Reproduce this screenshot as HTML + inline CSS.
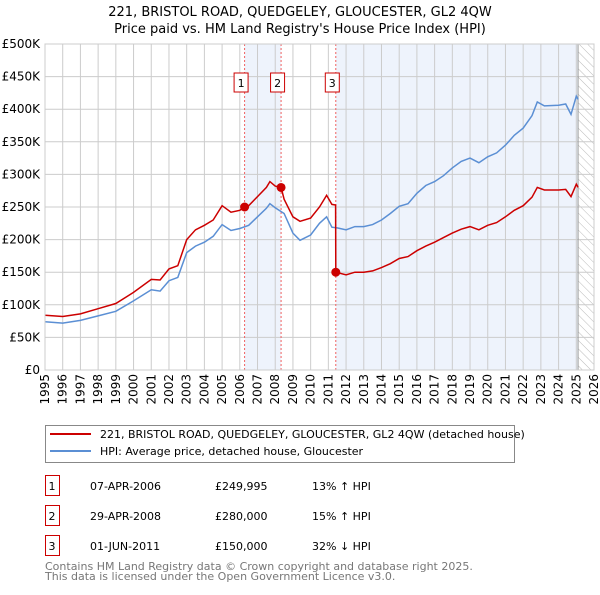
<!DOCTYPE html>
<html><head><meta charset="utf-8"><style>
body{margin:0;background:#fff;font-family:"Liberation Sans","DejaVu Sans",sans-serif;}
svg text{font-family:"DejaVu Sans","Liberation Sans",sans-serif;}
</style></head><body>
<svg id="c" width="600" height="590" xmlns="http://www.w3.org/2000/svg">
<defs><pattern id="hatch" width="6" height="6" patternUnits="userSpaceOnUse" patternTransform="rotate(-45)"><line x1="0" y1="0" x2="0" y2="6" stroke="#bbb" stroke-width="1"/></pattern></defs>
<text x="300" y="16" text-anchor="middle" font-size="13">221, BRISTOL ROAD, QUEDGELEY, GLOUCESTER, GL2 4QW</text>
<text x="300" y="33" text-anchor="middle" font-size="13">Price paid vs. HM Land Registry's House Price Index (HPI)</text>
<g id="plot"></g>
<g>
<rect x="45.5" y="425.5" width="469" height="37" fill="#fff" stroke="#888"/>
<line x1="50" y1="434" x2="91" y2="434" stroke="#cc0000" stroke-width="2"/>
<text x="100" y="438" font-size="11">221, BRISTOL ROAD, QUEDGELEY, GLOUCESTER, GL2 4QW (detached house)</text>
<line x1="50" y1="451" x2="91" y2="451" stroke="#5b8fd4" stroke-width="2"/>
<text x="100" y="455" font-size="11">HPI: Average price, detached house, Gloucester</text>
</g>
<g id="table" font-size="11"></g>
<text x="45" y="570" font-size="11" fill="#777">Contains HM Land Registry data © Crown copyright and database right 2025.</text>
<text x="45" y="580" font-size="11" fill="#777">This data is licensed under the Open Government Licence v3.0.</text>
</svg>
<script>
const hpiYears=[1995,1996,1997,1998,1999,2000,2001,2001.5,2002,2002.5,2003,2003.5,2004,2004.5,2005,2005.5,2006,2006.5,2007,2007.5,2007.7,2008,2008.5,2009,2009.4,2010,2010.5,2010.9,2011.2,2011.5,2012,2012.5,2013,2013.5,2014,2014.5,2015,2015.5,2016,2016.5,2017,2017.5,2018,2018.5,2019,2019.5,2020,2020.5,2021,2021.5,2022,2022.5,2022.8,2023.2,2024,2024.4,2024.7,2025.0,2025.1];
const hpiValues=[74,72,76,83,90,106,123,121,137,142,180,190,196,205,223,214,217,222,235,248,255,249,240,210,199,207,225,235,219,218,215,220,220,223,230,240,251,255,271,283,289,298,310,320,325,318,327,333,345,360,371,390,411,405,406,408,392,420,415];
const priceYears=[1995,1996,1997,1998,1999,2000,2001,2001.5,2002,2002.5,2003,2003.5,2004,2004.5,2005,2005.5,2006,2006.27,2006.5,2007,2007.5,2007.7,2008,2008.33,2008.5,2009,2009.4,2010,2010.5,2010.9,2011.2,2011.41,2011.42,2012,2012.5,2013,2013.5,2014,2014.5,2015,2015.5,2016,2016.5,2017,2017.5,2018,2018.5,2019,2019.5,2020,2020.5,2021,2021.5,2022,2022.5,2022.8,2023.2,2024,2024.4,2024.7,2025.0,2025.1];
const priceValues=[84,82,86,94,102,119,139,138,155,160,200,215,222,230,252,242,245,250,252,266,280,289,282,280,262,235,228,233,250,268,254,253,150,146,150,150,152,157,163,171,174,183,190,196,203,210,216,220,215,222,226,235,245,252,265,280,276,276,277,266,285,280];
const saleLabels=["1","2","3"];
const saleYears=[2006.27,2008.33,2011.42];
const salePrices=[249.995,280,150];
const saleDates=["07-APR-2006","29-APR-2008","01-JUN-2011"];
const salePriceText=["£249,995","£280,000","£150,000"];
const saleHpiText=["13% ↑ HPI","15% ↑ HPI","32% ↓ HPI"];
const yTicks=[0,50,100,150,200,250,300,350,400,450,500];
const yTickLabels=["£0","£50K","£100K","£150K","£200K","£250K","£300K","£350K","£400K","£450K","£500K"];
const xTicks=[];for(let y=1995;y<=2026;y++)xTicks.push(y);
const dataEnd=2025.1;

const NS="http://www.w3.org/2000/svg";
const L=45,R=594,T=44,B=370;
const xs=v=>L+(v-1995)/(2026-1995)*(R-L);
const ys=v=>B-v/500*(B-T);
const g=document.getElementById('plot');
function mk(tag,at,parent){const e=document.createElementNS(NS,tag);for(const k in at)e.setAttribute(k,at[k]);(parent||g).appendChild(e);return e;}

let e=mk('rect',{x:xs(saleYears[0]),y:T,width:xs(saleYears[1])-xs(saleYears[0]),height:B-T,fill:'#eef3fc'});


e=mk('rect',{x:xs(saleYears[2]),y:T,width:xs(dataEnd)-xs(saleYears[2]),height:B-T,fill:'#eef3fc'});


e=mk('rect',{x:xs(dataEnd),y:T,width:R-xs(dataEnd),height:B-T,fill:'url(#hatch)'});



yTicks.forEach((t,i)=>{
  let l=mk('line',{x1:L,x2:R,y1:ys(t),y2:ys(t),stroke:'#ccc','stroke-width':1});
  
  
  let tx=mk('text',{x:L-5,y:ys(t)+4,'text-anchor':'end','font-size':12});
  
  
  tx.textContent=yTickLabels[i];
});
xTicks.forEach(t=>{
  let l=mk('line',{x1:xs(t),x2:xs(t),y1:T,y2:B,stroke:'#ccc','stroke-width':1});
  
  
  let tx=mk('text',{x:0,y:0,'text-anchor':'end','font-size':12,transform:`translate(${xs(t)+4},${B+4}) rotate(-90)`});
  
  
  tx.textContent=t;
});
e=mk('line',{x1:xs(dataEnd),x2:xs(dataEnd),y1:T,y2:B,stroke:'#999','stroke-width':1});



saleYears.forEach((s,i)=>{
  let l=mk('line',{x1:xs(s),x2:xs(s),y1:T,y2:B,stroke:'#f06060','stroke-width':1,'stroke-dasharray':'2,2'});
  
  
});

function path(xa,va){return xa.map((x,i)=>(i?'L':'M')+xs(x).toFixed(1)+','+ys(va[i]).toFixed(1)).join('');}
e=mk('path',{d:path(hpiYears,hpiValues),fill:'none',stroke:'#5b8fd4','stroke-width':1.5});


e=mk('path',{d:path(priceYears,priceValues),fill:'none',stroke:'#cc0000','stroke-width':1.5});



saleYears.forEach((s,i)=>{
  let c=mk('circle',{cx:xs(s),cy:ys(salePrices[i]),r:4.5,fill:'#cc0000'});
  
  
  let bx=mk('rect',{x:xs(s)-10.5,y:73,width:14,height:19,fill:'#fff',stroke:'#cc0000'});
  
  
  let tx=mk('text',{x:xs(s)-3.5,y:87,'text-anchor':'middle','font-size':11});
  
  
  tx.textContent=saleLabels[i];
});
e=mk('rect',{x:L,y:T,width:R-L,height:B-T,fill:'none',stroke:'#ccc'});



const tb=document.getElementById('table');
saleLabels.forEach((lab,i)=>{
  const y=483+i*30;
  let r=mk('rect',{x:45.5,y:y-7.5,width:14,height:20,fill:'#fff',stroke:'#cc0000'},tb);
  
  
  const cols=[[52,lab,'middle'],[90,saleDates[i],'start'],[215,salePriceText[i],'start'],[312,saleHpiText[i],'start']];
  cols.forEach(([x,t,a])=>{
    let tx=mk('text',{x:x,y:y+7,'text-anchor':a},tb);
    
    
    tx.textContent=t;
  });
});
</script>
</body></html>
